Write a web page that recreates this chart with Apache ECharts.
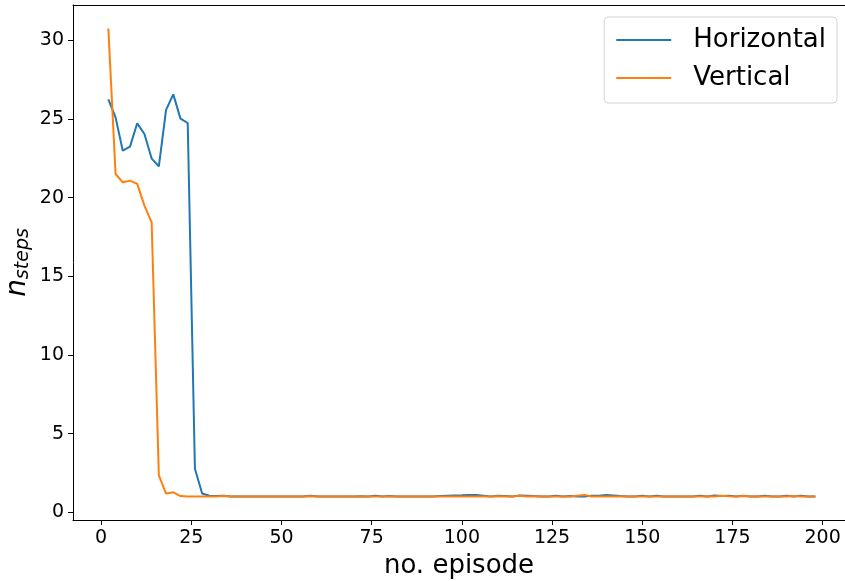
<!DOCTYPE html>
<html>
<head>
<meta charset="utf-8">
<script src="https://cdn.jsdelivr.net/npm/echarts@6/dist/echarts.min.js"></script>
<style>
  html, body { margin: 0; padding: 0; background: #fff; }
  #chart { width: 845px; height: 581px; }
</style>
</head>
<body>
<div id="chart"></div>
<script>
// episodes 2, 4, ..., 198
const episodes = [];
for (let e = 2; e <= 198; e += 2) episodes.push(e);

const horizontal = [
  26.24, 25.1, 22.98, 23.24, 24.72, 24.04, 22.48, 21.99, 25.57, 26.56,
  25.02, 24.74, 2.77, 1.19, 1.05, 1.03, 1.05, 1.0, 1.0, 1.0,
  1, 1, 1, 1, 1, 1, 1, 1, 1.05, 1,
  1, 1, 1, 1, 1, 1.02, 1, 1.05, 1, 1.03,
  1, 1, 1, 1, 1, 1, 1.03, 1.05, 1.07, 1.08,
  1.1, 1.1, 1.05, 1.0, 1.05, 1.03, 1.0, 1.07, 1.05, 1.03,
  1.0, 1.0, 1.05, 1.0, 1.03, 1.0, 1.0, 1.05, 1.05, 1.1,
  1.07, 1.03, 1.0, 1.0, 1.05, 1.0, 1.05, 1.0, 1.0, 1.0,
  1.0, 1.0, 1.05, 1.0, 1.07, 1.03, 1.05, 1.0, 1.05, 1.0,
  1.0, 1.05, 1.0, 1.0, 1.05, 1.0, 1.05, 1.0, 1.0
];

const vertical = [
  30.75, 21.5, 20.97, 21.08, 20.87, 19.49, 18.43, 2.35, 1.19, 1.27,
  1.03, 1, 1, 1, 1, 1, 1.03, 1, 1, 1,
  1, 1, 1, 1, 1, 1, 1, 1, 1.02, 1,
  1, 1, 1, 1, 1, 1, 1, 1, 1, 1,
  1, 1, 1, 1, 1, 1, 1, 1, 1, 1,
  1, 1, 1, 1, 1.02, 1, 1, 1.05, 1, 1.02,
  1, 1, 1, 1, 1, 1.05, 1.1, 1, 1, 1,
  1, 1, 1, 1, 1, 1, 1, 1, 1, 1,
  1, 1, 1, 1.02, 1, 1.05, 1.02, 1, 1.03, 1,
  1, 1, 1, 1, 1, 1.03, 1, 1, 1
];

const xTicks = [0, 25, 50, 75, 100, 125, 150, 175, 200];
const yTicks = [0, 5, 10, 15, 20, 25, 30];

const font = 'DejaVu Sans';
const chart = echarts.init(document.getElementById('chart'));

chart.setOption({
  animation: false,
  textStyle: { fontFamily: font },
  grid: {
    left: 73, right: 0, top: 5, bottom: 61,
    outerBoundsMode: 'none',
    containLabel: false,
    show: false
  },
  legend: {
    orient: 'vertical',
    right: 8, top: 17,
    padding: [8, 11, 10, 12],
    icon: 'rect',
    itemWidth: 55, itemHeight: 2, itemGap: 8,
    backgroundColor: '#fff',
    borderColor: '#d4d4d4', borderWidth: 1, borderRadius: 4,
    textStyle: { fontSize: 26, color: '#000', fontFamily: font, lineHeight: 30, padding: [0, 0, 0, 17] },
    data: ['Horizontal', 'Vertical']
  },
  xAxis: [
    {
      type: 'value',
      min: -7.8, max: 206.2,
      splitLine: { show: false },
      axisLine: { show: true, onZero: false, lineStyle: { color: '#000', width: 1 } },
      axisTick: { show: true, length: 5, lineStyle: { color: '#000' }, customValues: xTicks },
      axisLabel: { color: '#000', fontSize: 19, margin: 9, customValues: xTicks },
      name: 'no. episode',
      nameLocation: 'middle',
      nameGap: 31,
      nameTextStyle: { fontSize: 26, color: '#000', fontFamily: font }
    },
    {
      // top spine only
      type: 'value',
      position: 'top',
      min: -7.8, max: 206.2,
      splitLine: { show: false },
      axisLine: { show: true, onZero: false, lineStyle: { color: '#000', width: 1 } },
      axisTick: { show: false },
      axisLabel: { show: false }
    }
  ],
  yAxis: {
    type: 'value',
    min: -0.49, max: 32.24,
    splitLine: { show: false },
    axisLine: { show: true, onZero: false, lineStyle: { color: '#000', width: 1 } },
    axisTick: { show: true, length: 5, lineStyle: { color: '#000' }, customValues: yTicks },
    axisLabel: { color: '#000', fontSize: 19, margin: 9, customValues: yTicks },
    name: '{n|n}{s|steps}',
    nameLocation: 'middle',
    nameRotate: 90,
    nameGap: 40,
    nameMoveOverlap: false,
    nameTextStyle: {
      rich: {
        n: { fontSize: 28, fontStyle: 'italic', color: '#000', fontFamily: font },
        s: { fontSize: 19, fontStyle: 'italic', color: '#000', fontFamily: font, padding: [11, 0, 0, 0] }
      }
    }
  },
  series: [
    {
      name: 'Horizontal',
      type: 'line',
      symbol: 'none',
      data: episodes.map((e, i) => [e, horizontal[i]]),
      lineStyle: { color: '#1f77b4', width: 2 },
      itemStyle: { color: '#1f77b4' }
    },
    {
      name: 'Vertical',
      type: 'line',
      symbol: 'none',
      data: episodes.map((e, i) => [e, vertical[i]]),
      lineStyle: { color: '#ff7f0e', width: 2 },
      itemStyle: { color: '#ff7f0e' }
    }
  ]
});
</script>
</body>
</html>
